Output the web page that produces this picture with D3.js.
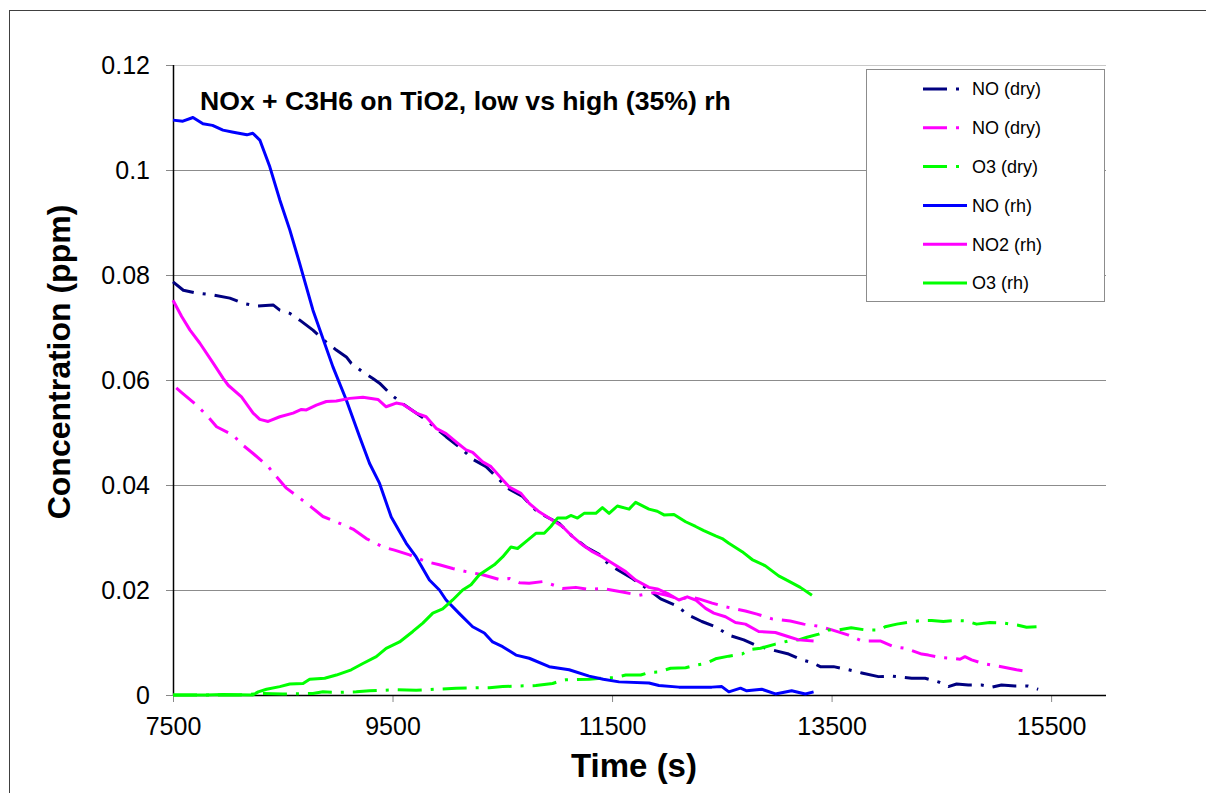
<!DOCTYPE html>
<html>
<head>
<meta charset="utf-8">
<script src="https://cdn.jsdelivr.net/npm/d3@7"></script>
<style>
body { margin: 0; background: #fff; }
text { font-family: Arial, "Liberation Sans", sans-serif; }
</style>
</head>
<body>
<div class="canvas"></div>
<script>
// series values, [time (s), concentration (ppm)]
var noDry = [[7500,0.0787],[7594,0.0771],[7700,0.0766],[7866,0.0762],[8018,0.0756],[8139,0.0746],[8261,0.0741],[8412,0.0743],[8473,0.0733],[8564,0.0727],[8655,0.0714],[8775,0.0695],[8880,0.0675],[8988,0.0657],[9079,0.0644],[9124,0.0632],[9224,0.0616],[9321,0.0603],[9382,0.0594],[9473,0.0575],[9564,0.0559],[9715,0.0537],[9806,0.0524],[9897,0.0508],[9988,0.0492],[10139,0.0467],[10230,0.0449],[10352,0.0435],[10473,0.0410],[10564,0.0392],[10685,0.0378],[10806,0.0352],[10897,0.0340],[11018,0.0327],[11139,0.0302],[11261,0.0282],[11382,0.0268],[11473,0.0248],[11685,0.0222],[11836,0.0200],[11943,0.0183],[12079,0.0171],[12200,0.0152],[12318,0.0140],[12443,0.0130],[12564,0.0114],[12700,0.0105],[12806,0.0095],[12957,0.0086],[13109,0.0078],[13230,0.0067],[13321,0.0062],[13397,0.0054],[13518,0.0054],[13655,0.0048],[13775,0.0042],[13927,0.0035],[14048,0.0036],[14230,0.0032],[14352,0.0032],[14473,0.0025],[14564,0.0016],[14639,0.0021],[14745,0.0019],[14867,0.0019],[14958,0.0015],[15048,0.0019],[15170,0.0017],[15291,0.0017],[15382,0.0011]];

var no2Dry = [[7530,0.0585],[7579,0.0576],[7715,0.0552],[7806,0.0533],[7897,0.0511],[8048,0.0495],[8124,0.0478],[8230,0.0460],[8367,0.0435],[8442,0.0416],[8533,0.0394],[8655,0.0375],[8760,0.0358],[8866,0.0340],[9018,0.0327],[9139,0.0316],[9261,0.0298],[9412,0.0282],[9518,0.0276],[9655,0.0267],[9806,0.0254],[9927,0.0248],[10048,0.0241],[10170,0.0235],[10321,0.0229],[10473,0.0220],[10564,0.0222],[10655,0.0214],[10745,0.0213],[10867,0.0216],[10958,0.0210],[11048,0.0203],[11170,0.0205],[11291,0.0201],[11412,0.0203],[11594,0.0196],[11745,0.0190],[11882,0.0195],[12000,0.0190],[12124,0.0182],[12200,0.0187],[12291,0.0183],[12412,0.0175],[12533,0.0168],[12715,0.0160],[12821,0.0154],[12957,0.0145],[13124,0.0141],[13245,0.0135],[13382,0.0131],[13503,0.0124],[13655,0.0114],[13776,0.0103],[13943,0.0103],[14064,0.0092],[14170,0.0089],[14321,0.0078],[14382,0.0076],[14473,0.0072],[14594,0.0070],[14670,0.0068],[14715,0.0073],[14776,0.0067],[14882,0.0060],[15018,0.0055],[15185,0.0048],[15306,0.0044]];

var o3Dry = [[7500,0],[7800,0],[8100,0],[8321,0.0003],[8500,0.0002],[8775,0.0003],[8866,0.0006],[9000,0.0005],[9170,0.0006],[9291,0.0008],[9533,0.0010],[9715,0.0009],[9900,0.0011],[10079,0.0013],[10382,0.0014],[10503,0.0016],[10625,0.0017],[10806,0.0018],[10958,0.0022],[11033,0.0027],[11079,0.0029],[11291,0.0030],[11412,0.0032],[11518,0.0033],[11624,0.0038],[11761,0.0038],[11836,0.0043],[11927,0.0044],[12033,0.0051],[12170,0.0052],[12261,0.0057],[12352,0.0060],[12443,0.0069],[12564,0.0074],[12685,0.0078],[12745,0.0086],[12852,0.0089],[12988,0.0097],[13109,0.0103],[13200,0.0105],[13276,0.0110],[13382,0.0116],[13473,0.0124],[13564,0.0124],[13679,0.0128],[13806,0.0124],[13943,0.0124],[13988,0.0130],[14094,0.0135],[14215,0.0139],[14321,0.0142],[14412,0.0142],[14518,0.0140],[14639,0.0142],[14730,0.0141],[14821,0.0135],[14942,0.0138],[15064,0.0137],[15200,0.0133],[15276,0.0129],[15367,0.0130]];

var noRh = [[7500,0.1095],[7590,0.1093],[7682,0.1100],[7773,0.1088],[7860,0.1085],[7955,0.1076],[8050,0.1072],[8173,0.1067],[8227,0.1070],[8291,0.1057],[8382,0.1006],[8473,0.0943],[8564,0.0886],[8650,0.0825],[8775,0.0733],[8957,0.0625],[9079,0.0562],[9200,0.0492],[9291,0.0441],[9382,0.0403],[9488,0.0339],[9625,0.0289],[9715,0.0263],[9836,0.0219],[9927,0.0200],[9988,0.0181],[10109,0.0155],[10230,0.0130],[10336,0.0118],[10412,0.0101],[10503,0.0092],[10625,0.0076],[10745,0.0070],[10927,0.0054],[11109,0.0048],[11291,0.0036],[11420,0.0030],[11564,0.0025],[11836,0.0023],[11927,0.0018],[12109,0.0015],[12409,0.0015],[12500,0.0016],[12564,0.0006],[12670,0.0013],[12727,0.0008],[12864,0.0011],[12988,0.0002],[13136,0.0008],[13261,0.0002],[13336,0.0006]];

var no2Rh = [[7500,0.0752],[7579,0.0721],[7655,0.0695],[7745,0.0670],[7866,0.0632],[7957,0.0603],[8003,0.0590],[8124,0.0568],[8230,0.0537],[8291,0.0525],[8367,0.0521],[8473,0.0530],[8594,0.0537],[8670,0.0544],[8715,0.0543],[8806,0.0552],[8897,0.0559],[8988,0.0560],[9109,0.0565],[9230,0.0567],[9367,0.0563],[9442,0.0549],[9533,0.0556],[9594,0.0554],[9715,0.0537],[9806,0.0530],[9897,0.0508],[9988,0.0498],[10079,0.0482],[10170,0.0467],[10230,0.0462],[10321,0.0444],[10397,0.0435],[10503,0.0410],[10564,0.0396],[10670,0.0384],[10745,0.0365],[10836,0.0349],[10958,0.0333],[11048,0.0321],[11139,0.0302],[11230,0.0286],[11321,0.0273],[11412,0.0263],[11503,0.0251],[11624,0.0235],[11715,0.0219],[11836,0.0205],[11912,0.0202],[12018,0.0192],[12109,0.0181],[12185,0.0187],[12261,0.0181],[12352,0.0165],[12427,0.0156],[12533,0.0149],[12624,0.0138],[12715,0.0135],[12836,0.0121],[12988,0.0119],[13109,0.0111],[13200,0.0105],[13336,0.0103]];

var o3Rh = [[7500,0],[7800,0],[7955,0.0001],[8227,0],[8276,0.0006],[8352,0.0011],[8473,0.0016],[8564,0.0021],[8685,0.0022],[8745,0.0030],[8882,0.0032],[8988,0.0038],[9124,0.0048],[9230,0.0060],[9352,0.0073],[9442,0.0089],[9564,0.0101],[9685,0.0121],[9776,0.0137],[9867,0.0156],[9957,0.0164],[10048,0.0181],[10139,0.0200],[10215,0.0210],[10291,0.0229],[10427,0.0248],[10503,0.0263],[10579,0.0282],[10639,0.0279],[10715,0.0292],[10806,0.0308],[10882,0.0308],[10942,0.0321],[11003,0.0337],[11079,0.0337],[11124,0.0342],[11185,0.0337],[11245,0.0346],[11352,0.0346],[11412,0.0357],[11473,0.0346],[11548,0.0360],[11655,0.0354],[11715,0.0367],[11836,0.0354],[11912,0.0350],[11973,0.0343],[12064,0.0344],[12170,0.0330],[12261,0.0321],[12336,0.0313],[12443,0.0303],[12503,0.0298],[12564,0.0289],[12685,0.0273],[12776,0.0258],[12897,0.0246],[13018,0.0227],[13109,0.0217],[13215,0.0205],[13321,0.0190]];

// legend names, in drawing order
var seriesNames = ['NO (dry)', 'NO (dry)', 'O3 (dry)', 'NO (rh)', 'NO2 (rh)', 'O3 (rh)'];
var seriesData = [noDry, no2Dry, o3Dry, noRh, no2Rh, o3Rh];
var seriesColors = ['#000080', '#ff00ff', '#00ff00', '#0000ff', '#ff00ff', '#00ff00'];
var seriesDashed = [true, true, true, false, false, false];

// ticks
var xTicks = [7500, 9500, 11500, 13500, 15500];
var yTicks = [0, 0.02, 0.04, 0.06, 0.08, 0.1, 0.12];
var yTickLabels = ['0', '0.02', '0.04', '0.06', '0.08', '0.1', '0.12'];

var width = 1206,
    height = 793;

var plot = { left: 173, right: 1106, top: 65, bottom: 695 };

var svg = d3.select('.canvas').append('svg')
    .attr('width', width)
    .attr('height', height);

// outer chart frame
svg.append('rect')
    .attr('x', 9.5).attr('y', 10.5)
    .attr('width', 1300).attr('height', 900)
    .attr('fill', 'none')
    .attr('stroke', '#404040')
    .attr('stroke-width', 1);

var x = d3.scaleLinear().domain([7500, 16000]).range([plot.left, plot.right]);
var y = d3.scaleLinear().domain([0, 0.12]).range([plot.bottom, plot.top]);

// gridlines
svg.append('g')
    .selectAll('line')
    .data(yTicks.slice(1))
    .enter()
    .append('line')
    .attr('x1', plot.left).attr('x2', plot.right)
    .attr('y1', function (d) { return Math.round(y(d)) + 0.5; })
    .attr('y2', function (d) { return Math.round(y(d)) + 0.5; })
    .attr('stroke', function (d) { return d === 0.12 ? '#c8c8c8' : '#8c8c8c'; })
    .attr('stroke-width', 1);

// axes
var yAxis = d3.axisLeft(y)
    .tickValues(yTicks)
    .tickFormat(function (d, i) { return yTickLabels[i]; })
    .tickSize(7)
    .tickPadding(16);

var gy = svg.append('g')
    .attr('transform', 'translate(' + plot.left + ',0)')
    .call(yAxis);
gy.select('.domain').remove();
gy.selectAll('.tick line').attr('stroke', '#888');
gy.selectAll('.tick text')
    .attr('font-size', 25)
    .attr('font-family', 'Arial, "Liberation Sans", sans-serif')
    .attr('fill', '#000');

var xAxis = d3.axisBottom(x)
    .tickValues(xTicks)
    .tickFormat(d3.format('d'))
    .tickSize(7)
    .tickPadding(15);

var gx = svg.append('g')
    .attr('transform', 'translate(0,' + plot.bottom + ')')
    .call(xAxis);
gx.select('.domain').remove();
gx.selectAll('.tick line').attr('stroke', '#888');
gx.selectAll('.tick text')
    .attr('font-size', 25)
    .attr('font-family', 'Arial, "Liberation Sans", sans-serif')
    .attr('fill', '#000');

// axis lines
svg.append('line')
    .attr('x1', plot.left + 0.5).attr('x2', plot.left + 0.5)
    .attr('y1', plot.top).attr('y2', plot.bottom)
    .attr('stroke', '#000').attr('stroke-width', 1.5);
svg.append('line')
    .attr('x1', plot.left).attr('x2', plot.right)
    .attr('y1', plot.bottom + 0.5).attr('y2', plot.bottom + 0.5)
    .attr('stroke', '#000').attr('stroke-width', 1.5);

// series
var line = d3.line()
    .x(function (d) { return x(d[0]); })
    .y(function (d) { return y(d[1]); });

svg.append('g')
    .selectAll('path')
    .data(seriesData)
    .enter()
    .append('path')
    .attr('d', line)
    .attr('fill', 'none')
    .attr('stroke', function (d, i) { return seriesColors[i]; })
    .attr('stroke-width', 3)
    .attr('stroke-linejoin', 'round')
    .attr('stroke-dasharray', function (d, i) { return seriesDashed[i] ? '24,9,3,9' : null; });

// title inside plot
svg.append('text')
    .attr('x', 200).attr('y', 110)
    .attr('font-size', 26.6)
    .attr('font-weight', 'bold')
    .text('NOx + C3H6 on TiO2, low vs high (35%) rh');

// axis titles
svg.append('text')
    .attr('x', 634).attr('y', 777)
    .attr('text-anchor', 'middle')
    .attr('font-size', 33)
    .attr('font-weight', 'bold')
    .text('Time (s)');

svg.append('text')
    .attr('transform', 'translate(70,362) rotate(-90)')
    .attr('text-anchor', 'middle')
    .attr('font-size', 32)
    .attr('font-weight', 'bold')
    .text('Concentration (ppm)');

// legend
var legend = svg.append('g');
legend.append('rect')
    .attr('x', 866.5).attr('y', 69.5)
    .attr('width', 238).attr('height', 232)
    .attr('fill', '#fff')
    .attr('stroke', '#8c8c8c');

var items = legend.selectAll('.item')
    .data(seriesNames)
    .enter()
    .append('g')
    .attr('transform', function (d, i) { return 'translate(0,' + (89 + i * 38.8) + ')'; });

items.append('line')
    .attr('x1', 923).attr('x2', 967)
    .attr('stroke', function (d, i) { return seriesColors[i]; })
    .attr('stroke-width', 3)
    .attr('stroke-dasharray', function (d, i) { return seriesDashed[i] ? '24,9,3,9' : null; });

items.append('text')
    .attr('x', 972)
    .attr('dy', '0.35em')
    .attr('font-size', 18)
    .text(function (d) { return d; });
</script>
</body>
</html>
